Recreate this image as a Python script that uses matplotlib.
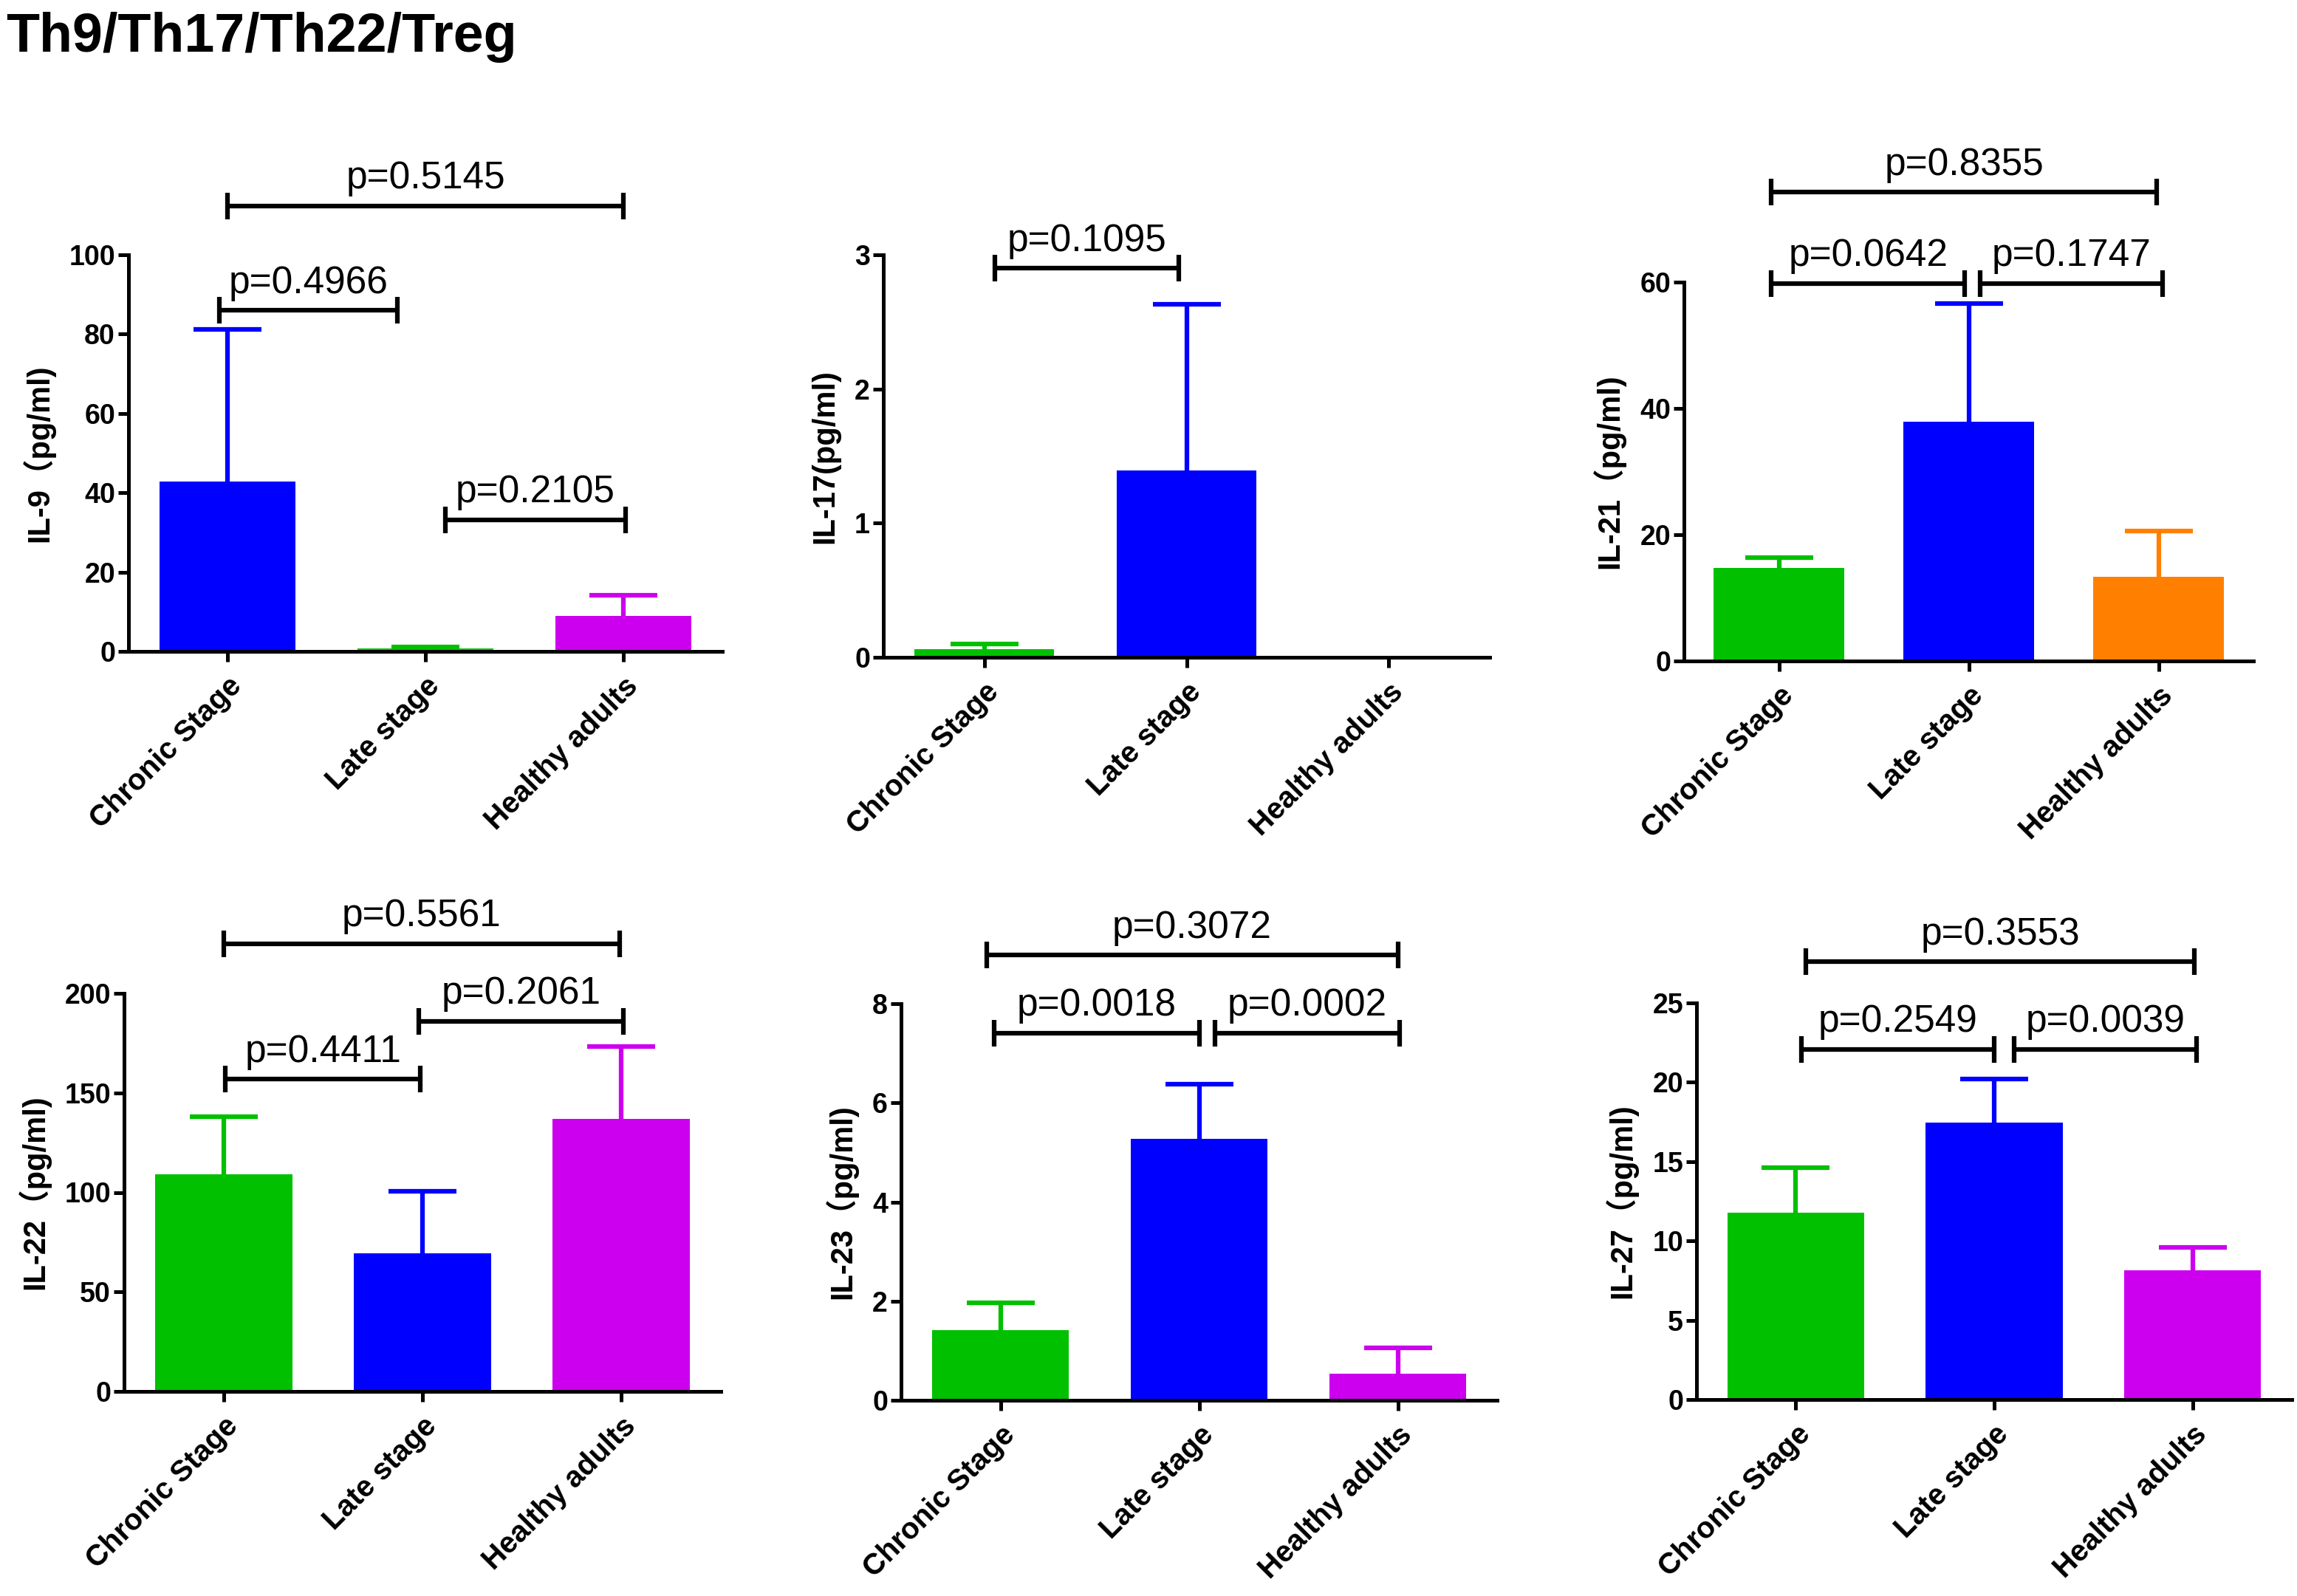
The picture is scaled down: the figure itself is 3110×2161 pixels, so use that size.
import numpy as np
import matplotlib
matplotlib.use("Agg")
import matplotlib.pyplot as plt

plt.rcParams['font.family'] = ['Liberation Sans', 'Noto Sans CJK SC', 'DejaVu Sans']

W, H = 3110, 2161

groups = ["Chronic Stage", "Late stage", "Healthy adults"]

BLUE = "#0000ff"
GREEN = "#00c000"
MAGENTA = "#cc00ee"
ORANGE = "#ff8000"

# mean and upper SD for each cytokine (pg/ml)
il9_mean = [42.8, 0.8, 8.9]
il9_sd = [38.4, 0.4, 5.2]
il17_mean = [0.06, 1.39, 0.0]
il17_sd = [0.04, 1.24, 0.0]
il21_mean = [14.7, 37.95, 13.3]
il21_sd = [1.7, 18.65, 7.3]
il22_mean = [109.0, 69.5, 137.0]
il22_sd = [29.0, 31.2, 36.4]
il23_mean = [1.41, 5.28, 0.54]
il23_sd = [0.56, 1.10, 0.52]
il27_mean = [11.77, 17.48, 8.17]
il27_sd = [2.87, 2.72, 1.40]

# p-value brackets: (x start, x end, height, text)
il9_p = [(0.0, 2.0, 112.3, "p=0.5145"), (-0.04, 0.86, 86.0, "p=0.4966"), (1.1, 2.01, 33.2, "p=0.2105")]
il17_p = [(0.05, 0.96, 2.90, "p=0.1095")]
il21_p = [(-0.04, 0.98, 59.8, "p=0.0642"), (1.06, 2.02, 59.8, "p=0.1747"), (-0.04, 1.99, 74.25, "p=0.8355")]
il22_p = [(0.01, 0.99, 156.9, "p=0.4411"), (0.98, 2.01, 186.0, "p=0.2061"), (0.0, 1.99, 225.0, "p=0.5561")]
il23_p = [(-0.03, 1.0, 7.41, "p=0.0018"), (1.08, 2.01, 7.41, "p=0.0002"), (-0.07, 2.0, 8.98, "p=0.3072")]
il27_p = [(0.03, 1.0, 22.07, "p=0.2549"), (1.1, 2.02, 22.07, "p=0.0039"), (0.05, 2.01, 27.6, "p=0.3553")]

panels = [
    dict(rect=(174, 345, 978, 882), label="IL-9（pg/ml)", mean=il9_mean, sd=il9_sd,
         colors=[BLUE, GREEN, MAGENTA], yticks=[0, 20, 40, 60, 80, 100], brackets=il9_p),
    dict(rect=(1196, 345, 2017, 890), label="IL-17(pg/ml)", mean=il17_mean, sd=il17_sd,
         colors=[GREEN, BLUE, MAGENTA], yticks=[0, 1, 2, 3], brackets=il17_p),
    dict(rect=(2280, 382, 3051, 895), label="IL-21（pg/ml)", mean=il21_mean, sd=il21_sd,
         colors=[GREEN, BLUE, ORANGE], yticks=[0, 20, 40, 60], brackets=il21_p),
    dict(rect=(168, 1345, 976, 1884), label="IL-22（pg/ml)", mean=il22_mean, sd=il22_sd,
         colors=[GREEN, BLUE, MAGENTA], yticks=[0, 50, 100, 150, 200], brackets=il22_p),
    dict(rect=(1220, 1359, 2027, 1896), label="IL-23（pg/ml)", mean=il23_mean, sd=il23_sd,
         colors=[GREEN, BLUE, MAGENTA], yticks=[0, 2, 4, 6, 8], brackets=il23_p),
    dict(rect=(2297, 1358, 3103, 1895), label="IL-27（pg/ml)", mean=il27_mean, sd=il27_sd,
         colors=[GREEN, BLUE, MAGENTA], yticks=[0, 5, 10, 15, 20, 25], brackets=il27_p),
]

LW = 3.6

fig = plt.figure(figsize=(W / 100, H / 100), dpi=100)
fig.text(8 / W, 1 - 70 / H, "Th9/Th17/Th22/Treg", fontsize=53, fontweight="bold", va="baseline")

for p in panels:
    l, t, r, b = p["rect"]
    ax = fig.add_axes([l / W, 1 - b / H, (r - l) / W, (b - t) / H])
    x = np.arange(len(groups))
    ax.bar(x, p["mean"], width=0.69, color=p["colors"], zorder=2)
    # upper error bar only, cap at the top
    for xi, m, s, c in zip(x, p["mean"], p["sd"], p["colors"]):
        if s > 0:
            ax.plot([xi, xi], [m, m + s], color=c, lw=4.5, solid_capstyle="butt", zorder=3)
            ax.plot([xi], [m + s], ls="none", marker="_", ms=66, mew=4.5, color=c, zorder=3)

    ax.set_xlim(-0.5, 2.5)
    ax.set_ylim(0, p["yticks"][-1])
    ax.set_yticks(p["yticks"])
    ax.set_xticks(x)
    ax.set_xticklabels(groups, rotation=45, ha="right", rotation_mode="anchor",
                       fontsize=29, fontweight="bold")
    for lab in ax.get_yticklabels():
        lab.set_fontweight("bold")
    ax.tick_params(axis="both", width=LW, length=10, direction="out")
    ax.tick_params(axis="y", labelsize=27, pad=3)
    ax.tick_params(axis="x", pad=10)
    for side in ["top", "right"]:
        ax.spines[side].set_visible(False)
    for side in ["left", "bottom"]:
        ax.spines[side].set_linewidth(LW)
    ax.set_ylabel(p["label"], fontsize=30, fontweight="bold", labelpad=14)

    for x1, x2, lvl, txt in p["brackets"]:
        ax.plot([x1, x2], [lvl, lvl], color="black", lw=4.5, solid_capstyle="butt", clip_on=False)
        ax.plot([x1, x2], [lvl, lvl], ls="none", marker="|", ms=26, mew=4.5,
                color="black", clip_on=False)
        ax.annotate(txt, xy=((x1 + x2) / 2, lvl), xytext=(0, 17), textcoords="offset points",
                    ha="center", va="baseline", fontsize=37, annotation_clip=False)

fig.savefig("out.png", dpi=100)
